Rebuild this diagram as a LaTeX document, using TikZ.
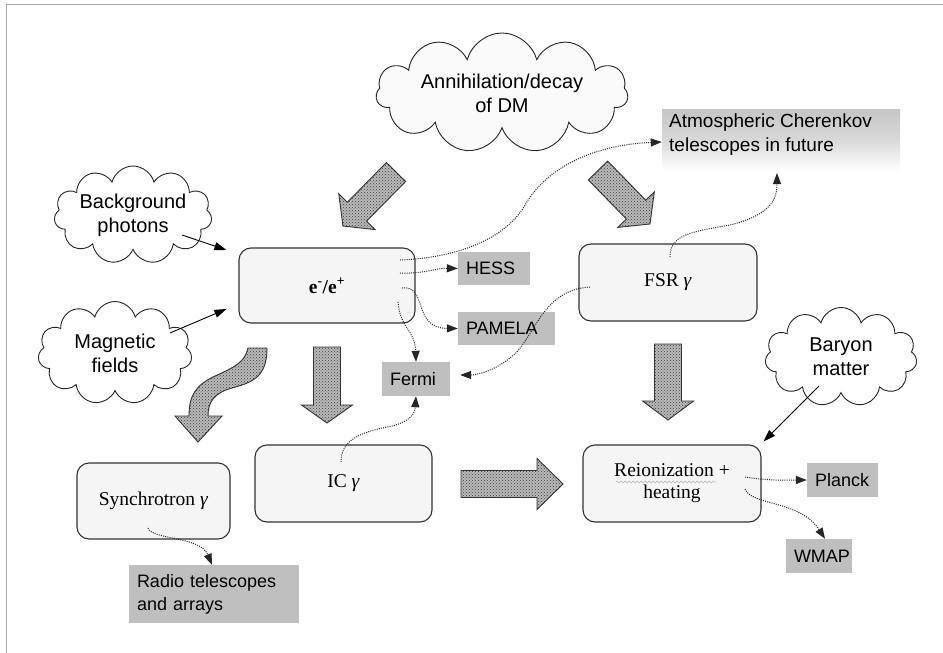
\documentclass[tikz,border=0pt]{standalone}
\usepackage{fontspec}
\setmainfont{Liberation Serif}
\newfontfamily\arialf{Liberation Sans}
\usetikzlibrary{shapes.symbols,arrows.meta,patterns,decorations.pathmorphing,calc}
\newcommand\blockarr[4]{%
  \begin{scope}[shift={#1}, rotate=#2]
    \path[barrow] (0,-13.5) -- (#3-#4,-13.5) -- (#3-#4,-25.5) -- (#3,0) -- (#3-#4,25.5) -- (#3-#4,13.5) -- (0,13.5) -- cycle;
  \end{scope}}
\begin{document}
\begin{tikzpicture}[x=1pt,y=-1pt,
  rbox/.style={draw=black!80, line width=1.1pt, fill=gray!8, rounded corners=12pt, inner sep=0pt, font=\fontsize{19.5}{22}\selectfont, align=center},
  cl/.style={cloud, cloud puffs=11, cloud ignores aspect, draw=black!85, line width=0.9pt, fill=white, inner sep=0pt, font=\arialf\fontsize{20}{24}\selectfont, align=center},
  gbox/.style={fill=gray!50, inner xsep=8pt, inner ysep=0pt, align=left, font=\arialf\fontsize{18}{23}\selectfont},
  dotarr/.style={dash pattern=on 1pt off 1.2pt, line width=1pt, draw=black!85, -{Triangle[length=11pt,width=8pt]}},
  solarr/.style={line width=0.9pt, -{Triangle[length=12pt,width=8pt]}},
  barrow/.style={draw=black!80, line width=0.9pt, preaction={fill=gray!55}, pattern=crosshatch dots, pattern color=gray!50!black}
]
\useasboundingbox (0,0) rectangle (943,653);
\fill[white] (0,0) rectangle (943,653);
% frame
\draw[gray!70, line width=1.5pt] (6.5,653) -- (6.5,4.5) -- (943,4.5);

% clouds
\node[cl, fill=gray!4, minimum width=252, minimum height=120] (dm) at (502,93) {Annihilation/decay\\of DM};
\node[cl, minimum width=138, minimum height=98] (bg) at (133,215) {Background\\photons};
\node[cl, minimum width=154, minimum height=103] (mag) at (115,353) {Magnetic\\fields};
\node[cl, minimum width=152, minimum height=99] (bar) at (841,357) {Baryon\\matter};

% rounded boxes
\node[rbox, minimum width=176, minimum height=75] (ee) at (327,285.5) {\textbf{e\textsuperscript{-}/e\textsuperscript{+}}};
\node[rbox, minimum width=178, minimum height=77] (fsr) at (668,282.5) {FSR \textit{γ}};
\node[rbox, minimum width=153, minimum height=76] (syn) at (153.5,501) {Synchrotron \textit{γ}};
\node[rbox, minimum width=177, minimum height=77] (ic) at (343.5,483.5) {IC \textit{γ}};
\node[rbox, minimum width=178, minimum height=77] (rei) at (672,483.5) {Reionization +\\heating};
\draw[gray!60, line width=0.5pt, decorate, decoration={snake, amplitude=1pt, segment length=4pt}] (616,482) -- (716,482);

% gray boxes
\node[gbox, text width=56, minimum height=33] (hess) at (494,268.5) {HESS};
\node[gbox, text width=81, minimum height=33] (pamela) at (506.5,328.5) {PAMELA};
\node[gbox, text width=52, minimum height=34] (fermi) at (416,379) {Fermi};
\node[gbox, text width=55, minimum height=34] (planck) at (842.5,480) {Planck};
\node[gbox, text width=50, minimum height=34] (wmap) at (819,556) {WMAP};
\node[gbox, text width=154, minimum height=58] (radio) at (214,594) {Radio telescopes\\and arrays};
\node[top color=gray!45, bottom color=white, middle color=gray!30, minimum width=238, minimum height=62, inner sep=0pt] (atm) at (781,140) {};
\node[anchor=west, align=left, inner sep=0pt, font=\arialf\fontsize{19}{24}\selectfont] (atmtext) at (669,135) {Atmospheric Cherenkov\\telescopes in future};

% block arrows
\blockarr{(396,172)}{225.5}{75.7}{20}
\blockarr{(598,170.5)}{-45.8}{74.6}{20}
\blockarr{(327,347)}{-90}{76}{18}
\blockarr{(668,344)}{-90}{76}{19}
\blockarr{(461,484)}{0}{102}{26}
\path[barrow] (248,348) -- (267,348) .. controls (267,375) and (255,382) .. (232,388) .. controls (214,393) and (208,402) .. (208,416) -- (222,416) -- (198,442) -- (175,416) -- (189,416) .. controls (189,395) and (196,385) .. (215,376) .. controls (235,367) and (245,362) .. (248,348) -- cycle;

% solid arrows
\coordinate (bgs) at (182,235);
\coordinate (mags) at (170,333);
\coordinate (bars) at (819,386);
\draw[solarr] (bgs) -- ($(ee.west)+(-12,-35.5)$);
\draw[solarr] (mags) -- ($(ee.west)+(-12,23.5)$);
\draw[solarr] (bars) -- ($(rei.north east)+(2,-3)$);

% dotted connectors
\coordinate (ee1) at (400,260);
\coordinate (ee2) at (400,273);
\coordinate (ee3) at (402,288);
\coordinate (ee4) at (398,302);
\coordinate (fsr1) at (590,287);
\coordinate (fsr2) at (670,257);
\coordinate (ic1) at (341,462);
\coordinate (syn1) at (148,528);
\coordinate (rei1) at (745,477);
\coordinate (rei2) at (745,489);
\draw[dotarr] (ee1) .. controls (455,258) and (505,240) .. (525,205) .. controls (545,170) and (590,145) .. (atm.west |- 0,142);
\draw[dotarr] (ee2) .. controls (425,274) and (435,268) .. (hess.west);
\draw[dotarr] (ee3) .. controls (428,285) and (412,328) .. (pamela.west);
\draw[dotarr] (ee4) .. controls (400,328) and (415,330) .. (fermi.north);
\draw[dotarr] (fsr1) .. controls (540,290) and (535,340) .. (510,358) .. controls (495,370) and (478,375) .. ($(fermi.east)+(10,-4)$);
\draw[dotarr] (ic1) .. controls (341,440) and (360,432) .. (392,426) .. controls (412,421) and (415,412) .. (fermi.south);
\draw[dotarr] (fsr2) .. controls (670,235) and (690,232) .. (730,225) .. controls (770,215) and (777,200) .. (777,173);
\draw[dotarr] (syn1) .. controls (152,540) and (200,536) .. (radio.north -| 212,0);
\draw[dotarr] (rei1) .. controls (770,481) and (785,480) .. (planck.west);
\draw[dotarr] (rei2) .. controls (752,506) and (800,500) .. (wmap.north -| 825,0);
\end{tikzpicture}
\end{document}
